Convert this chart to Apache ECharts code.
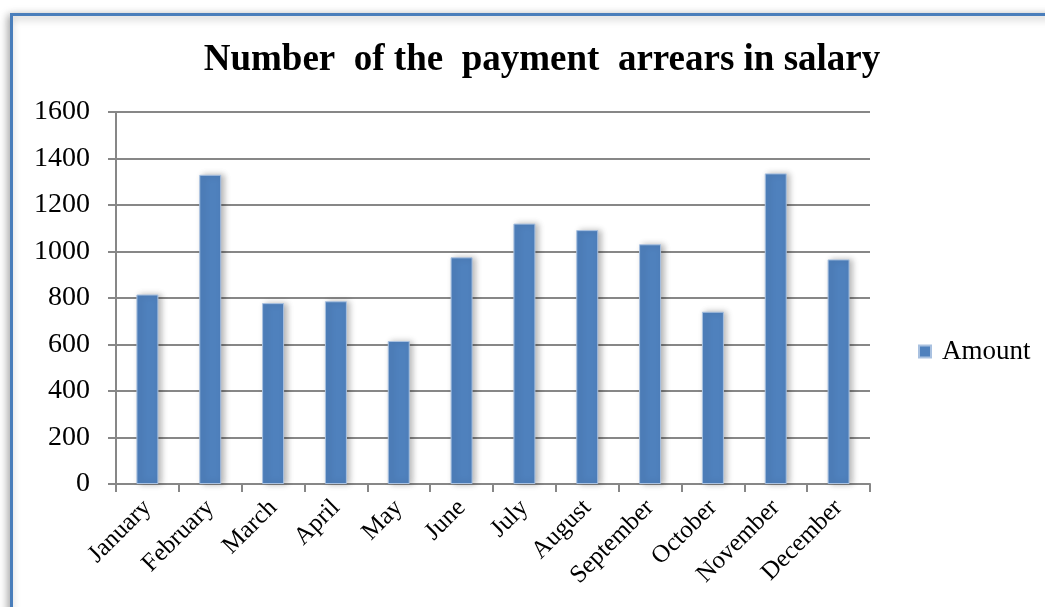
<!DOCTYPE html>
<html>
<head>
<meta charset="utf-8">
<script src="https://cdn.jsdelivr.net/npm/echarts@6/dist/echarts.min.js"></script>
<style>
  html, body { margin: 0; padding: 0; background: #ffffff; }
  #chart { width: 1045px; height: 607px; }
</style>
</head>
<body>
<div id="chart"></div>
<script>
// Monthly counts of salary payment arrears
const months = ['January', 'February', 'March', 'April', 'May', 'June',
                'July', 'August', 'September', 'October', 'November', 'December'];
const amounts = [815, 1330, 778, 786, 615, 975, 1120, 1092, 1031, 741, 1336, 966];
const seriesName = 'Amount';
const titleText = 'Number  of the  payment  arrears in salary';

const serif = '"Liberation Serif", "DejaVu Serif", serif';
const barBlue = '#4f81bd';
const gridGrey = '#878787';

const chart = echarts.init(document.getElementById('chart'), null, { renderer: 'canvas' });

chart.setOption({
  backgroundColor: '#ffffff',
  animation: false,
  graphic: [{
    // outer chart frame with a soft drop shadow
    type: 'rect',
    z: -10,
    shape: { x: 11.5, y: 14.5, width: 1200, height: 800 },
    style: {
      fill: '#ffffff',
      stroke: '#4a7ebb',
      lineWidth: 3,
      shadowBlur: 8,
      shadowColor: 'rgba(0,0,0,0.35)',
      shadowOffsetX: -2,
      shadowOffsetY: 2
    }
  }],
  title: {
    text: titleText,
    left: 537,
    textAlign: 'center',
    top: 37,
    textStyle: {
      fontFamily: serif,
      fontWeight: 'bold',
      fontSize: 37,
      color: '#000000'
    }
  },
  legend: {
    data: [seriesName],
    left: 918,
    top: 338,
    padding: 0,
    icon: 'rect',
    itemWidth: 12,
    itemHeight: 12,
    textStyle: {
      fontFamily: serif,
      fontSize: 27,
      color: '#000000',
      padding: [0, 0, 0, 6]
    }
  },
  grid: {
    left: 116,
    right: 175,
    top: 112,
    bottom: 123,
    containLabel: false
  },
  xAxis: {
    type: 'category',
    data: months,
    boundaryGap: true,
    axisLine: { show: true, lineStyle: { color: gridGrey, width: 2 } },
    axisTick: { show: true, alignWithLabel: false, length: 8, lineStyle: { color: gridGrey, width: 2 } },
    axisLabel: {
      rotate: 45,
      margin: 20,
      interval: 0,
      fontFamily: serif,
      fontSize: 25,
      color: '#000000'
    },
    splitLine: { show: false }
  },
  yAxis: {
    type: 'value',
    min: 0,
    max: 1600,
    interval: 200,
    axisLine: { show: true, lineStyle: { color: gridGrey, width: 2 } },
    axisTick: { show: true, length: 8, lineStyle: { color: gridGrey, width: 2 } },
    axisLabel: {
      margin: 26,
      formatter: (v) => String(v),
      fontFamily: serif,
      fontSize: 28,
      color: '#000000'
    },
    splitLine: { show: true, lineStyle: { color: gridGrey, width: 2 } }
  },
  series: [{
    name: seriesName,
    type: 'bar',
    data: amounts,
    barWidth: '35%',
    itemStyle: {
      color: barBlue,
      borderColor: '#a9c1e0',
      borderWidth: 1,
      shadowColor: 'rgba(0,0,0,0.28)',
      shadowBlur: 6,
      shadowOffsetX: 3,
      shadowOffsetY: 0
    }
  }]
});
</script>
</body>
</html>
